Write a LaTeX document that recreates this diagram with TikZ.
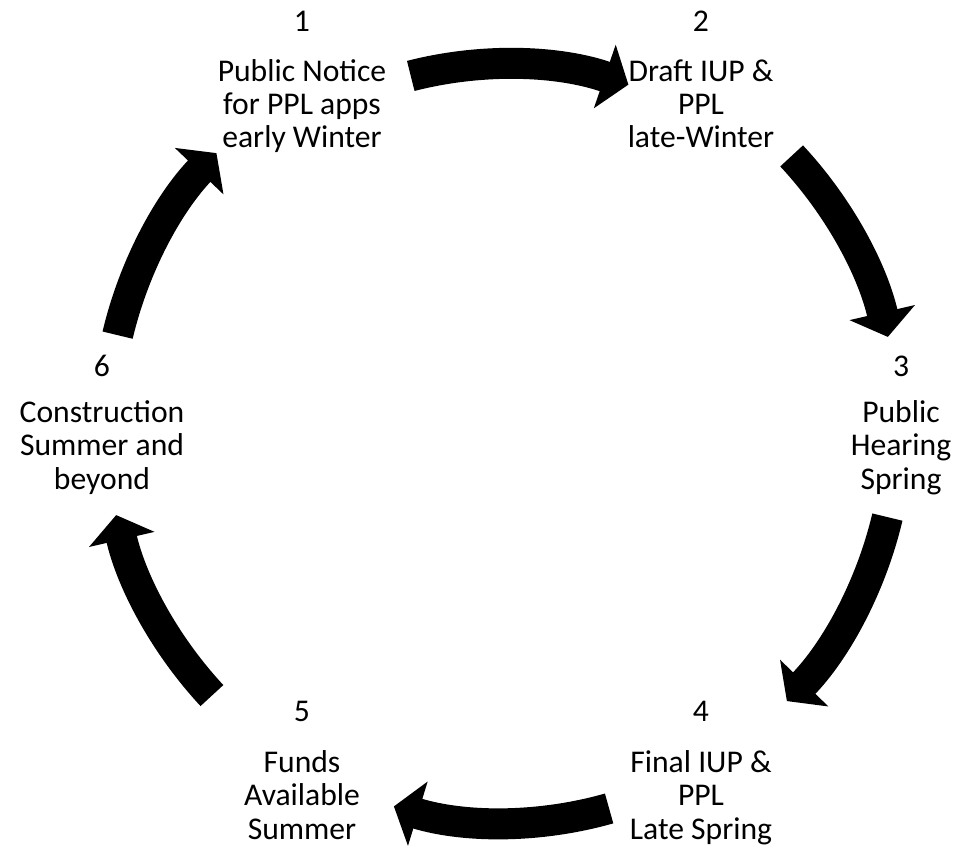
\documentclass[tikz,border=0pt]{standalone}
\usepackage{fontspec}
\setmainfont{Carlito}
\usetikzlibrary{arrows.meta,calc}
\begin{document}
\begin{tikzpicture}[x=0.02cm,y=0.02cm,
		cyclearrow/.style={line width=0.62cm,-{Triangle[length=0.5cm,width=1.32cm]}},
		stepnum/.style={anchor=base,inner sep=0pt,font=\fontsize{18}{18.8}\selectfont},
		steptext/.style={anchor=base,inner sep=0pt,align=center,font=\fontsize{18}{18.8}\selectfont}]
		\useasboundingbox (0,0) rectangle (959,849);
		\coordinate (ctb) at (505,406);
		\coordinate (csd) at (502,423);
		% steps (text nodes sit on their last line)
		\node[stepnum] (n1) at (302,817) {1};
		\node[steptext] (t1) at (302,701) {Public Notice\\for PPL apps\\early Winter};
		\node[stepnum] (n2) at (701,817) {2};
		\node[steptext] (t2) at (701,701) {Draft IUP \&\\PPL\\late-Winter};
		\node[stepnum] (n3) at (901,472) {3};
		\node[steptext] (t3) at (901,360) {Public\\Hearing\\Spring};
		\node[stepnum] (n4) at (701,128) {4};
		\node[steptext] (t4) at (701,10) {Final IUP \&\\PPL\\Late Spring};
		\node[stepnum] (n5) at (302,128) {5};
		\node[steptext] (t5) at (302,10) {Funds\\Available\\Summer};
		\node[stepnum] (n6) at (102,472) {6};
		\node[steptext] (t6) at (102,360) {Construction\\Summer and\\beyond};
		% arrows
		\foreach \c/\a/\b/\r in {ctb/104.4/71/379, csd/43/13/396, csd/-13.3/-44/396,
			ctb/-74.1/-107/380, csd/222.9/193/396, csd/166.7/136.3/395}
			\draw[cyclearrow] ($(\c)+(\a:\r)$) arc[start angle=\a,end angle=\b,radius=\r];
	\end{tikzpicture}
\end{document}
